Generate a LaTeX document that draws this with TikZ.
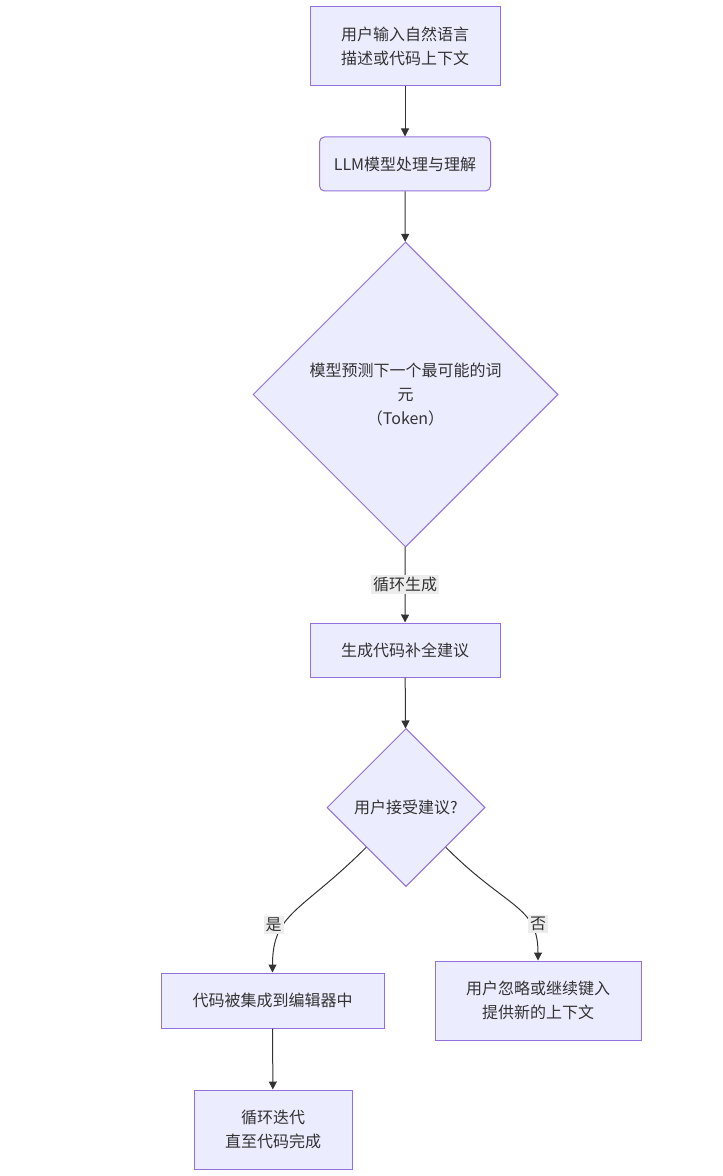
\documentclass[tikz,border=0pt]{standalone}
\usepackage{fontspec}
\setmainfont{Noto Sans CJK SC}
\usetikzlibrary{shapes.geometric,arrows.meta}
\definecolor{nodefill}{HTML}{ECECFF}
\definecolor{nodeline}{HTML}{9370DB}
\definecolor{edgecol}{HTML}{333333}
\definecolor{tagfill}{HTML}{EDEDED}
\begin{document}
\begin{tikzpicture}[x=0.75pt,y=-0.75pt,
  box/.style={draw=nodeline, fill=nodefill, line width=0.75pt, text=edgecol, align=center, inner sep=0pt, font=\fontsize{12}{18}\selectfont},
  choice/.style={box, diamond, aspect=1},
  flow/.style={draw=edgecol, line width=0.75pt, -{Triangle[length=6pt,width=6pt]}},
  tag/.style={fill=tagfill, text=edgecol, inner sep=1.5pt, font=\fontsize{12}{14}\selectfont}]
\useasboundingbox (0,0) rectangle (723,1176);
\node[box, minimum width=142.5pt, minimum height=59.25pt] (input) at (405,46.5) {用户输入自然语言\\描述或代码上下文};
\node[box, rounded corners=3.75pt, minimum width=128.25pt, minimum height=40.5pt] (llm) at (405,164) {LLM模型处理与理解};
\node[choice, minimum size=228.75pt] (predict) at (405.5,394.5) {模型预测下一个最可能的词\\元\\（Token）};
\node[box, minimum width=142.5pt, minimum height=40.5pt] (suggest) at (405,650) {生成代码补全建议};
\node[choice, minimum size=118.5pt] (accept) at (406,807.5) {用户接受建议?};
\node[box, minimum width=167.25pt, minimum height=41.25pt] (merge) at (272.5,1000.5) {代码被集成到编辑器中};
\node[box, minimum width=154.5pt, minimum height=59.25pt] (ignore) at (538,1000.5) {用户忽略或继续键入\\提供新的上下文};
\node[box, minimum width=118.5pt, minimum height=59.25pt] (loop) at (273,1129.5) {循环迭代\\直至代码完成};
% edges
\draw[flow] (input) -- (llm);
\draw[flow] (llm) -- (predict);
\draw[flow] (predict) -- node[tag] (gen) {循环生成} (suggest);
\draw[flow] (suggest) -- (accept);
\draw[flow] (accept.south west) .. controls +(-65,65) and +(0,-60) .. (merge.north) node[tag, pos=0.68, xshift=-6pt, yshift=3pt] (yes) {是};
\draw[flow] (accept.south east) .. controls +(62,62) and +(0,-55) .. (ignore.north) node[tag, pos=0.68, xshift=7pt, yshift=-2pt] (no) {否};
\draw[flow] (merge) -- (loop);
\end{tikzpicture}
\end{document}
